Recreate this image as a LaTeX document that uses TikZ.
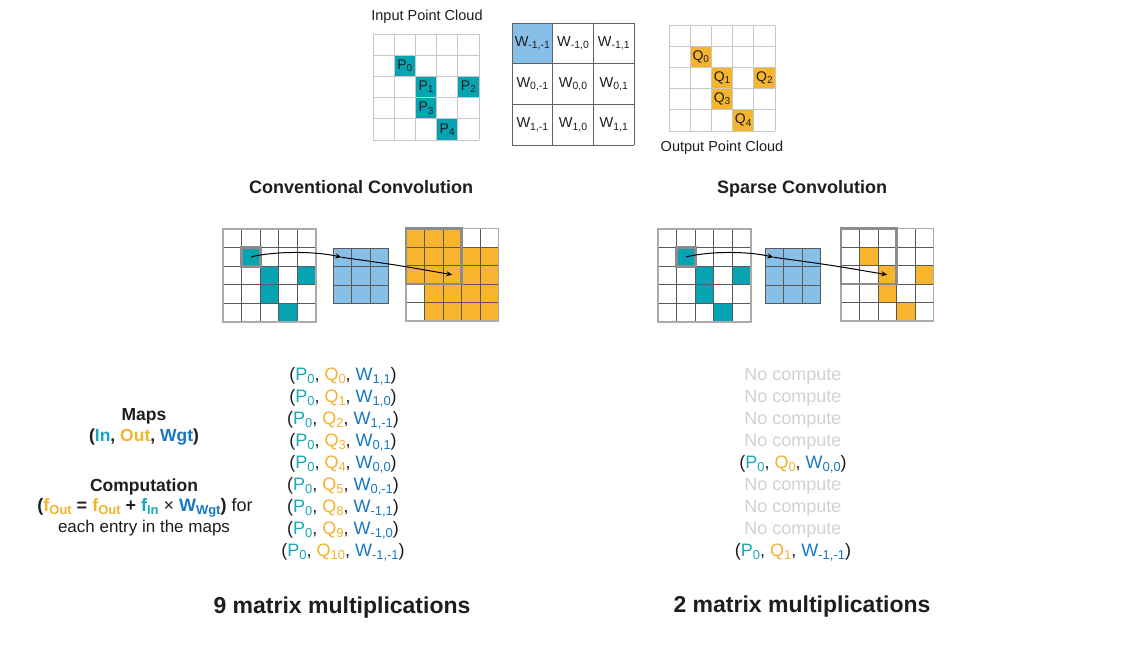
\documentclass[tikz,border=0pt]{standalone}
\usepackage{fontspec}
\setmainfont{Liberation Sans}
\usetikzlibrary{arrows.meta,calc}
\definecolor{cteal}{HTML}{05A4B3}
\definecolor{corange}{HTML}{F7B52D}
\definecolor{cbluef}{HTML}{88BFE6}
\definecolor{cp}{HTML}{17A9BC}
\definecolor{cq}{HTML}{F4B22F}
\definecolor{cw}{HTML}{1878C3}
\definecolor{cdark}{HTML}{1E1E1E}
\definecolor{cgray}{HTML}{D2D2D2}
\newcommand\lo[1]{\raisebox{-0.3ex}{\scalebox{0.72}{#1}}}
\newcommand\trip[3]{(\textcolor{cp}{P\lo{#1}}, \textcolor{cq}{Q\lo{#2}}, \textcolor{cw}{W\lo{#3}})}
\newcommand\drawgrid[5]{%
  \foreach \k in {0,...,#4}{
    \draw[#5] ({#1+\k*#3},{#2}) -- ({#1+\k*#3},{#2+#4*#3});
    \draw[#5] ({#1},{#2+\k*#3}) -- ({#1+#4*#3},{#2+\k*#3});
  }}
\newcommand\fillcell[6]{\fill[#6] ({#1+(#4-1)*#3},{#2+(#5-1)*#3}) rectangle ++(#3,#3);}
\tikzset{
 pcgrid/.style={draw=black!22, line width=0.8pt},
 wgrid/.style={draw=black!62, line width=0.8pt},
 cgrid/.style={draw=black!65, line width=0.8pt},
 cborder/.style={draw=black!33, line width=1.6pt},
 hbox/.style={draw=black!45, line width=2.6pt},
 lbl/.style={font=\fontsize{14}{16}\selectfont, text=cdark, inner sep=0pt},
 wlbl/.style={font=\fontsize{14.5}{16}\selectfont, text=cdark, inner sep=0pt},
 ttl/.style={font=\bfseries\fontsize{18}{21}\selectfont, text=cdark},
 bigt/.style={font=\bfseries\fontsize{23}{27}\selectfont, text=cdark},
 lst/.style={font=\fontsize{18}{22}\selectfont, text=cdark, inner sep=0pt},
 nc/.style={lst, text=cgray},
 side/.style={font=\fontsize{17}{20}\selectfont, text=cdark, inner sep=0pt},
 arr/.style={-{Stealth[length=6pt,width=5pt]}, line width=1pt, black},
}
\begin{document}
\begin{tikzpicture}[x=1pt,y=-1pt]
\useasboundingbox (0,0) rectangle (1121,647);
\fill[white] (0,0) rectangle (1121,647);
%% ---------- top: input point cloud
\def\cs{21.2}
\foreach \c/\r in {2/2,3/3,5/3,3/4,4/5}{\fillcell{373}{34}{\cs}{\c}{\r}{cteal}}
\drawgrid{373}{34}{\cs}{5}{pcgrid}
\node[lbl] (p0) at ({373+1.5*\cs},{34+1.5*\cs}) {P\lo{0}};
\node[lbl] (p1) at ({373+2.5*\cs},{34+2.5*\cs}) {P\lo{1}};
\node[lbl] (p2) at ({373+4.5*\cs},{34+2.5*\cs}) {P\lo{2}};
\node[lbl] (p3) at ({373+2.5*\cs},{34+3.5*\cs}) {P\lo{3}};
\node[lbl] (p4) at ({373+3.5*\cs},{34+4.5*\cs}) {P\lo{4}};
\node[lbl,font=\fontsize{14.5}{17}\selectfont] (inlab) at (427,17) {Input Point Cloud};
%% ---------- top: weight grid
\def\ws{40.7}
\fillcell{512}{23}{\ws}{1}{1}{cbluef}
\drawgrid{512}{23}{\ws}{3}{wgrid}
\node[wlbl] (w11) at ({512+0.5*\ws},{23+0.5*\ws}) {W\lo{-1,-1}};
\node[wlbl] (w12) at ({512+1.5*\ws},{23+0.5*\ws}) {W\lo{-1,0}};
\node[wlbl] (w13) at ({512+2.5*\ws},{23+0.5*\ws}) {W\lo{-1,1}};
\node[wlbl] (w21) at ({512+0.5*\ws},{23+1.5*\ws}) {W\lo{0,-1}};
\node[wlbl] (w22) at ({512+1.5*\ws},{23+1.5*\ws}) {W\lo{0,0}};
\node[wlbl] (w23) at ({512+2.5*\ws},{23+1.5*\ws}) {W\lo{0,1}};
\node[wlbl] (w31) at ({512+0.5*\ws},{23+2.5*\ws}) {W\lo{1,-1}};
\node[wlbl] (w32) at ({512+1.5*\ws},{23+2.5*\ws}) {W\lo{1,0}};
\node[wlbl] (w33) at ({512+2.5*\ws},{23+2.5*\ws}) {W\lo{1,1}};
%% ---------- top: output point cloud
\foreach \c/\r in {2/2,3/3,5/3,3/4,4/5}{\fillcell{669}{25}{\cs}{\c}{\r}{corange}}
\drawgrid{669}{25}{\cs}{5}{pcgrid}
\node[lbl] (q0) at ({669+1.5*\cs},{25+1.5*\cs}) {Q\lo{0}};
\node[lbl] (q1) at ({669+2.5*\cs},{25+2.5*\cs}) {Q\lo{1}};
\node[lbl] (q2) at ({669+4.5*\cs},{25+2.5*\cs}) {Q\lo{2}};
\node[lbl] (q3) at ({669+2.5*\cs},{25+3.5*\cs}) {Q\lo{3}};
\node[lbl] (q4) at ({669+3.5*\cs},{25+4.5*\cs}) {Q\lo{4}};
\node[lbl,font=\fontsize{14.5}{17}\selectfont] (outlab) at (722,148) {Output Point Cloud};
%% ---------- titles
\node[ttl] (tconv) at (361,187) {Conventional Convolution};
\node[ttl] (tsp) at (802,189) {Sparse Convolution};
%% ---------- conventional convolution
\def\gs{18.6}
\def\ks{18.5}
\foreach \c/\r in {2/2,3/3,5/3,3/4,4/5}{\fillcell{223}{229}{\gs}{\c}{\r}{cteal}}
\drawgrid{223}{229}{\gs}{5}{cgrid}
\draw[cborder] (223,229) rectangle ++({5*\gs},{5*\gs});
\draw[hbox] ({223+\gs},{229+\gs}) rectangle ++(\gs,\gs);
\fill[cbluef] (333,248) rectangle ++({3*\ks},{3*\ks});
\drawgrid{333}{248}{\ks}{3}{cgrid}
\foreach \c/\r in {1/1,2/1,3/1,1/2,2/2,3/2,4/2,5/2,1/3,2/3,3/3,4/3,5/3,2/4,3/4,4/4,5/4,2/5,3/5,4/5,5/5}{\fillcell{406}{228.5}{\ks}{\c}{\r}{corange}}
\drawgrid{406}{228.5}{\ks}{5}{cgrid}
\draw[cborder] (406,228.5) rectangle ++({5*\ks},{5*\ks});
\draw[hbox] (406,228.5) rectangle ++({3*\ks},{3*\ks});
\coordinate (ca) at ({223+1.5*\gs},{229+1.5*\gs});
\coordinate (cb) at ({333+0.45*\ks},{248+0.5*\ks});
\coordinate (cc) at ({406+2.5*\ks},{228.5+2.5*\ks});
\draw[arr] (ca) .. controls ($(ca)+(25,-6)$) and ($(cb)+(-25,-6)$) .. (cb);
\draw[arr] (cb) .. controls ($(cb)!0.5!(cc)+(0,-1)$) .. (cc);
%% ---------- sparse convolution
\foreach \c/\r in {2/2,3/3,5/3,3/4,4/5}{\fillcell{658}{229}{\gs}{\c}{\r}{cteal}}
\drawgrid{658}{229}{\gs}{5}{cgrid}
\draw[cborder] (658,229) rectangle ++({5*\gs},{5*\gs});
\draw[hbox] ({658+\gs},{229+\gs}) rectangle ++(\gs,\gs);
\fill[cbluef] (765,248) rectangle ++({3*\ks},{3*\ks});
\drawgrid{765}{248}{\ks}{3}{cgrid}
\foreach \c/\r in {2/2,3/3,5/3,3/4,4/5}{\fillcell{841}{228.5}{\ks}{\c}{\r}{corange}}
\drawgrid{841}{228.5}{\ks}{5}{cgrid}
\draw[cborder] (841,228.5) rectangle ++({5*\ks},{5*\ks});
\draw[hbox] (841,228.5) rectangle ++({3*\ks},{3*\ks});
\coordinate (sa) at ({658+1.5*\gs},{229+1.5*\gs});
\coordinate (sb) at ({765+0.45*\ks},{248+0.5*\ks});
\coordinate (sc) at ({841+2.5*\ks},{228.5+2.5*\ks});
\draw[arr] (sa) .. controls ($(sa)+(25,-6)$) and ($(sb)+(-25,-6)$) .. (sb);
\draw[arr] (sb) .. controls ($(sb)!0.5!(sc)+(0,-1)$) .. (sc);
%% ---------- left side text
\node[side,font=\bfseries\fontsize{17.5}{20}\selectfont] (maps) at (144,416) {Maps};
\node[side,font=\bfseries\fontsize{17.5}{20}\selectfont] (mapsk) at (144,437) {(\textcolor{cp}{In}, \textcolor{cq}{Out}, \textcolor{cw}{Wgt})};
\node[side,font=\bfseries\fontsize{17.5}{20}\selectfont] (comp) at (144,487) {Computation};
\node[side,font=\bfseries\fontsize{18}{20}\selectfont] (compf) at (145,508) {(\textcolor{cq}{f\lo{Out}} = \textcolor{cq}{f\lo{Out}} + \textcolor{cp}{f\lo{In}} {\mdseries ×} \textcolor{cw}{W\lo{Wgt}}) {\mdseries for}};
\node[side] (compe) at (144,528) {each entry in the maps};
%% ---------- conventional maps list
\node[lst] (m1) at (343,376) {\trip{0}{0}{1,1}};
\node[lst] (m2) at (343,398) {\trip{0}{1}{1,0}};
\node[lst] (m3) at (343,420) {\trip{0}{2}{1,-1}};
\node[lst] (m4) at (343,442) {\trip{0}{3}{0,1}};
\node[lst] (m5) at (343,464) {\trip{0}{4}{0,0}};
\node[lst] (m6) at (343,486) {\trip{0}{5}{0,-1}};
\node[lst] (m7) at (343,508) {\trip{0}{8}{-1,1}};
\node[lst] (m8) at (343,530) {\trip{0}{9}{-1,0}};
\node[lst] (m9) at (343,552) {\trip{0}{10}{-1,-1}};
%% ---------- sparse maps list
\node[nc] (s1) at (793,376) {No compute};
\node[nc] (s2) at (793,398) {No compute};
\node[nc] (s3) at (793,420) {No compute};
\node[nc] (s4) at (793,442) {No compute};
\node[lst] (s5) at (793,464) {\trip{0}{0}{0,0}};
\node[nc] (s6) at (793,486) {No compute};
\node[nc] (s7) at (793,508) {No compute};
\node[nc] (s8) at (793,530) {No compute};
\node[lst] (s9) at (793,552) {\trip{0}{1}{-1,-1}};
%% ---------- bottom
\node[bigt] (bl) at (342,608) {9 matrix multiplications};
\node[bigt] (br) at (802,607) {2 matrix multiplications};
\end{tikzpicture}
\end{document}
